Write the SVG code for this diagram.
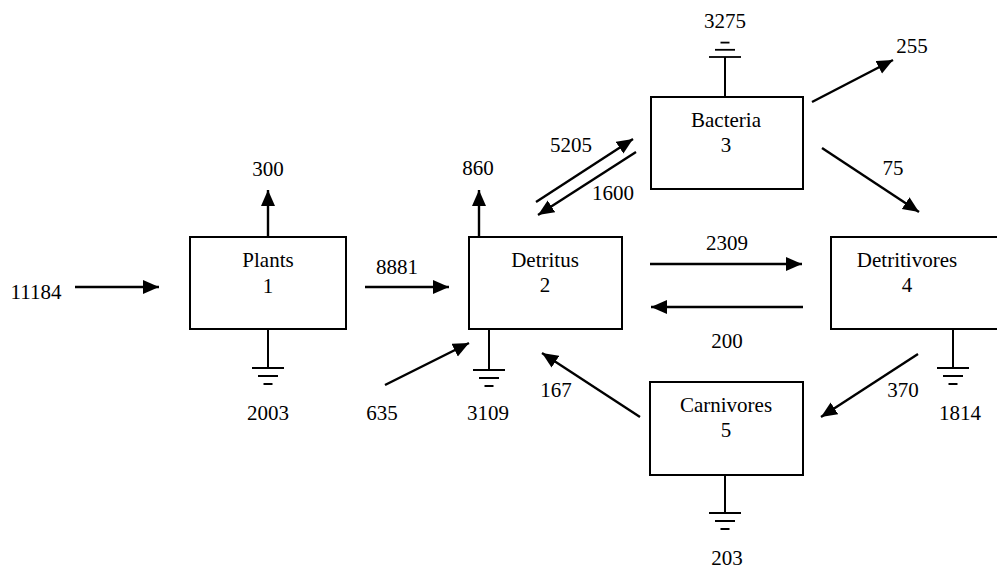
<svg xmlns="http://www.w3.org/2000/svg" width="997" height="570" viewBox="0 0 997 570" font-family="Liberation Serif, DejaVu Serif, Times New Roman, serif" font-size="21">
<style>
.box{fill:#fff;stroke:#000;stroke-width:2}
.flow{stroke:#000;stroke-width:2.4;fill:none;marker-end:url(#ah)}
.gnd{stroke:#000;stroke-width:2;fill:none}
text{fill:#000;text-anchor:middle}
</style>
<defs>
<marker id="ah" markerUnits="userSpaceOnUse" markerWidth="17" markerHeight="15" refX="16" refY="7" orient="auto">
<path d="M0,0 L16,7 L0,14 z" fill="#000"/>
</marker>
<g id="ground">
<line class="gnd" x1="-16" y1="0" x2="16" y2="0"/>
<line class="gnd" x1="-10" y1="8" x2="10" y2="8"/>
<line class="gnd" x1="-4.5" y1="16" x2="4.5" y2="16"/>
</g>
</defs>
<rect width="997" height="570" fill="#fff"/>
<g id="connectors">
<line class="flow" x1="75" y1="287" x2="159" y2="287"/>
<line class="flow" x1="268" y1="237" x2="268" y2="190"/>
<line class="flow" x1="365" y1="287" x2="449" y2="287"/>
<line class="flow" x1="385" y1="385" x2="469" y2="343"/>
<line class="flow" x1="479" y1="237" x2="479" y2="190"/>
<line class="flow" x1="536" y1="202" x2="633" y2="139"/>
<line class="flow" x1="636" y1="152" x2="538" y2="215"/>
<line class="flow" x1="812" y1="102" x2="893" y2="60"/>
<line class="flow" x1="822" y1="148" x2="919" y2="212"/>
<line class="flow" x1="650" y1="264" x2="802" y2="264"/>
<line class="flow" x1="803" y1="307" x2="651" y2="307"/>
<line class="flow" x1="640" y1="417" x2="542" y2="353"/>
<line class="flow" x1="918" y1="354" x2="821" y2="417"/>
<line class="gnd" x1="268" y1="329" x2="268" y2="368"/>
<use href="#ground" x="268" y="368"/>
<line class="gnd" x1="489" y1="329" x2="489" y2="370"/>
<use href="#ground" x="489" y="370"/>
<line class="gnd" x1="953" y1="329" x2="953" y2="368"/>
<use href="#ground" x="953" y="368"/>
<line class="gnd" x1="725" y1="475" x2="725" y2="513"/>
<use href="#ground" x="725" y="513"/>
<line class="gnd" x1="725" y1="97" x2="725" y2="57"/>
<use href="#ground" transform="translate(725,57) scale(1,-0.9)"/>
<text x="36" y="299">11184</text>
<text x="268" y="176">300</text>
<text x="397" y="274">8881</text>
<text x="268" y="420">2003</text>
<text x="382" y="420">635</text>
<text x="478" y="175">860</text>
<text x="488" y="420">3109</text>
<text x="571" y="152">5205</text>
<text x="613" y="200">1600</text>
<text x="725" y="28">3275</text>
<text x="912" y="53">255</text>
<text x="893" y="175">75</text>
<text x="727" y="250">2309</text>
<text x="727" y="348">200</text>
<text x="556" y="397">167</text>
<text x="903" y="397">370</text>
<text x="960" y="420">1814</text>
<text x="727" y="565">203</text>
</g>
<g id="plants">
<rect class="box" x="190" y="237" width="156" height="92"/>
<text x="268" y="267">Plants</text>
<text x="268" y="293">1</text>
</g>
<g id="detritus">
<rect class="box" x="469" y="237" width="153" height="92"/>
<text x="545" y="267">Detritus</text>
<text x="545" y="292">2</text>
</g>
<g id="bacteria">
<rect class="box" x="651" y="97" width="152" height="92"/>
<text x="726" y="127">Bacteria</text>
<text x="726" y="152">3</text>
</g>
<g id="detritivores">
<rect class="box" x="831" y="237" width="180" height="92"/>
<text x="907" y="267">Detritivores</text>
<text x="907" y="292">4</text>
</g>
<g id="carnivores">
<rect class="box" x="650" y="382" width="153" height="93"/>
<text x="726" y="412">Carnivores</text>
<text x="726" y="437">5</text>
</g>
</svg>
